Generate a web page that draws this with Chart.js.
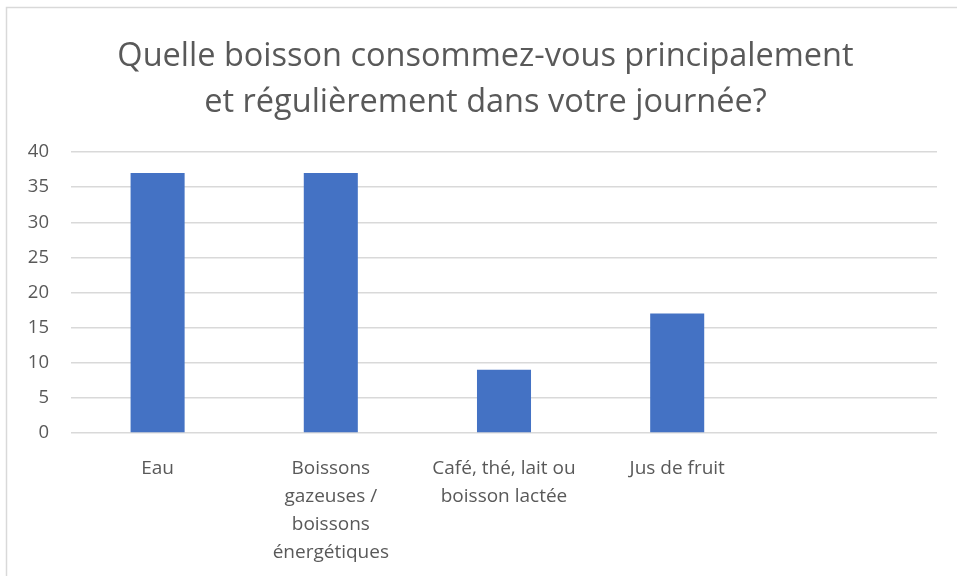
<!DOCTYPE html>
<html><head><meta charset="utf-8">
<script src="https://cdn.jsdelivr.net/npm/chart.js@4.4.1/dist/chart.umd.min.js"></script>
<style>html,body{margin:0;padding:0;background:#fff;}#wrap{width:957px;height:576px;}</style>
</head><body><div id="wrap"><canvas id="c" width="957" height="576"></canvas></div>
<script>
const titleLines = ["Quelle boisson consommez-vous principalement", "et régulièrement dans votre journée?"];
const categories = [["Eau"], ["Boissons", "gazeuses /", "boissons", "énergétiques"], ["Café, thé, lait ou", "boisson lactée"], ["Jus de fruit"], [""]];
const values = [37, 37, 9, 17, null];
const yMin = 0, yMax = 40, yStep = 5;

const FONT = "'Open Sans', Lato, sans-serif";
const TXT = '#595959';

const framePlugin = {
  id: 'frame',
  afterLayout(chart) {
    // centre the title on the outer frame rather than on the plot
    if (chart.titleBlock) {
      chart.titleBlock.left += 17;
      chart.titleBlock.right += 17;
    }
  },
  beforeDraw(chart) {
    const ctx = chart.ctx;
    ctx.save();
    ctx.fillStyle = '#ffffff';
    ctx.fillRect(0, 0, chart.width, chart.height);
    ctx.strokeStyle = '#d9d9d9';
    ctx.lineWidth = 1.5;
    ctx.strokeRect(6.5, 7.5, 2000, 2000);
    ctx.restore();
  }
};

new Chart(document.getElementById('c'), {
  type: 'bar',
  data: {
    labels: categories,
    datasets: [{
      data: values,
      backgroundColor: '#4472C4',
      borderWidth: 0,
      categoryPercentage: 1,
      barPercentage: 0.312
    }]
  },
  options: {
    responsive: false,
    animation: false,
    devicePixelRatio: 1,
    layout: { padding: { left: 0, right: 20, top: 0, bottom: 0 } },
    plugins: {
      legend: { display: false },
      tooltip: { enabled: false },
      title: {
        display: true,
        text: titleLines,
        color: TXT,
        font: { family: FONT, size: 32.5, weight: 'normal', lineHeight: 1.4 },
        padding: { top: 34, bottom: 27 }
      }
    },
    scales: {
      x: {
        grid: { display: false },
        border: { display: false },
        ticks: {
          color: TXT,
          font: { family: FONT, size: 19, lineHeight: 1.49 },
          padding: 13,
          maxRotation: 0,
          autoSkip: false
        },
        afterFit(s) { s.height = 143; }
      },
      y: {
        min: yMin, max: yMax,
        grid: { color: '#d9d9d9', lineWidth: 1.5, drawTicks: false },
        border: { display: false },
        ticks: {
          stepSize: yStep,
          color: TXT,
          font: { family: FONT, size: 18.5 },
          padding: 22
        },
        afterFit(s) { s.width = 71; }
      }
    }
  },
  plugins: [framePlugin]
});
</script>
</body></html>
